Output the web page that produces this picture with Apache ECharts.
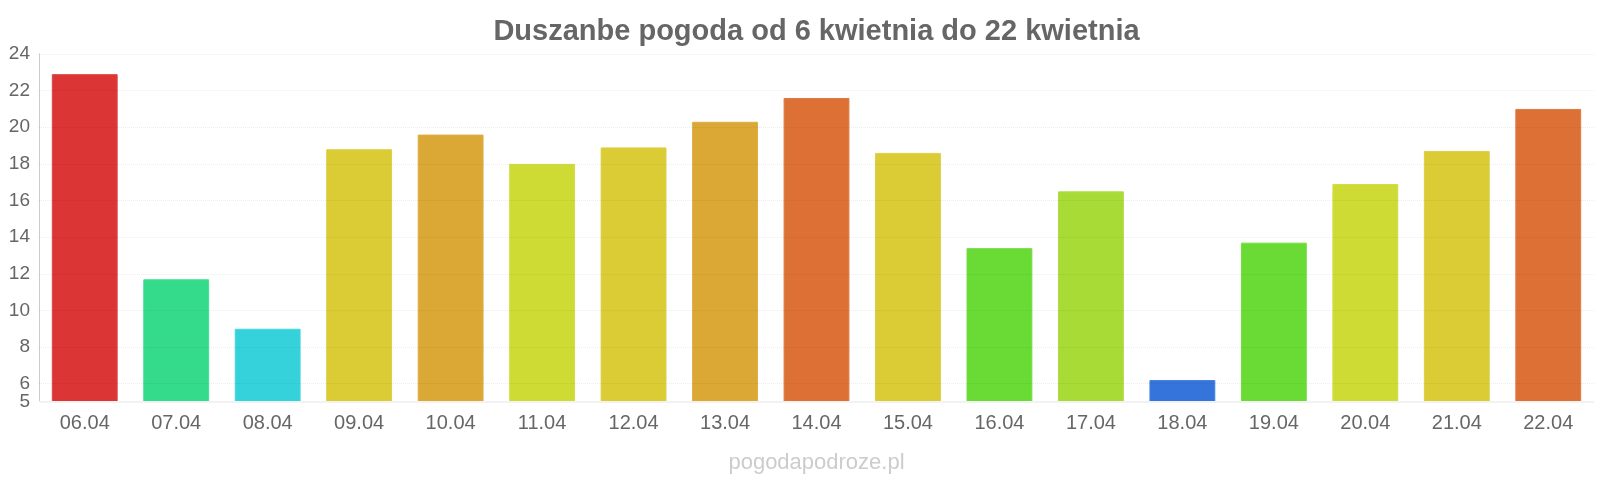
<!DOCTYPE html>
<html>
<head>
<meta charset="utf-8">
<script src="https://cdn.jsdelivr.net/npm/echarts@6/dist/echarts.min.js"></script>
<style>html,body{margin:0;padding:0;background:#fff;overflow:hidden;}#c{width:1633px;height:490px;}</style>
</head>
<body>
<div id="c"></div>
<script>
const categories = ["06.04","07.04","08.04","09.04","10.04","11.04","12.04","13.04","14.04","15.04","16.04","17.04","18.04","19.04","20.04","21.04","22.04"];
const temps = [22.9,11.7,9.0,18.8,19.6,18.0,18.9,20.3,21.6,18.6,13.4,16.5,6.2,13.7,16.9,18.7,21.0];
const barColors = ["#dc3535","#34db8a","#36d2db","#dbcb35","#dba835","#cfdb35","#dbcb35","#dba835","#dc7035","#dbcb35","#6adb35","#a8db35","#3575db","#6adb35","#cfdb35","#dbcb35","#dc7035"];
const yMin = 5;
const yTicks = [6,8,10,12,14,16,18,20,22,24];

const chart = echarts.init(document.getElementById('c'));
chart.setOption({
  animation: false,
  title: [{
    text: 'Duszanbe pogoda od 6 kwietnia do 22 kwietnia',
    left: 'center', top: 12,
    textStyle: {fontFamily: 'Liberation Sans', fontSize: 29, fontWeight: 'bold', color: '#666'}
  },{
    text: 'pogodapodroze.pl',
    left: 'center', top: 447,
    textStyle: {fontFamily: 'Liberation Sans', fontSize: 22, fontWeight: 'normal', color: '#ccc'}
  }],
  grid: {left: 39, right: 39, top: 54, bottom: 88},
  xAxis: {
    type: 'category', data: categories,
    axisLine: {show: false}, axisTick: {show: false},
    axisLabel: {fontFamily: 'Liberation Sans', fontSize: 20, color: '#666', margin: 11}
  },
  yAxis: {
    type: 'value', min: yMin, max: 24, interval: 1,
    axisLine: {show: true, lineStyle: {color: '#ccc'}},
    axisTick: {show: false},
    splitLine: {show: false},
    axisLabel: {fontFamily: 'Liberation Sans', fontSize: 19, color: '#666', margin: 9,
      customValues: yTicks, hideOverlap: false}
  },
  series: [{
    type: 'bar',
    data: temps.map((v, i) => ({value: v, itemStyle: {color: barColors[i], borderColor: echarts.color.lift(barColors[i], 0.08), borderWidth: 1}})),
    barWidth: '72%',
    markLine: {
      silent: true, symbol: 'none', label: {show: false}, z: 5,
      lineStyle: {color: 'rgba(0,0,0,0.07)', type: 'dotted', width: 1},
      data: yTicks.map(v => ({yAxis: v}))
    }
  },{
    type: 'line', data: [],
    markLine: {
      silent: true, symbol: 'none',
      label: {show: true, position: 'start', distance: 9, formatter: String(yMin),
        fontFamily: 'Liberation Sans', fontSize: 19, color: '#666'},
      lineStyle: {color: '#f2f2f2', type: 'solid', width: 2},
      data: [{yAxis: yMin}]
    }
  }]
});
</script>
</body>
</html>
